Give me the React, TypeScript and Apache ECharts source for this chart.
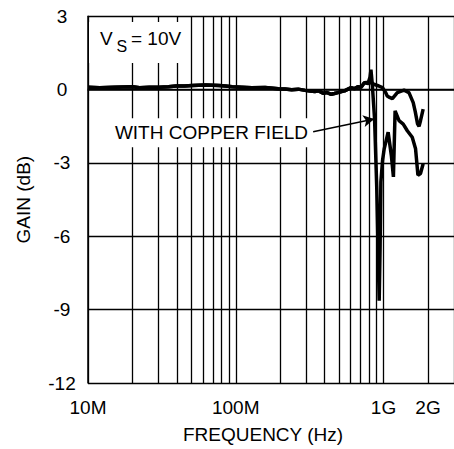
import React, { useEffect, useRef } from "react";
import * as echarts from "echarts";

// Frequencies in MHz, gains in dB
const flatFreq = [10, 12, 15, 20.1, 22.3, 26, 30.4, 35, 39.4, 45, 50.9, 56, 62.7, 70, 76.9, 85, 94.5, 110, 128.5, 158, 194, 215, 239, 265, 294, 318, 343, 365, 390, 415, 443, 465, 491, 520, 545, 575, 604, 635, 670, 705, 742];
const flatGain = [0.1, 0.08, 0.1, 0.12, 0.08, 0.1, 0.1, 0.12, 0.15, 0.15, 0.17, 0.18, 0.19, 0.18, 0.17, 0.15, 0.12, 0.1, 0.08, 0.09, 0.04, 0.03, 0.0, 0.02, -0.03, -0.06, -0.08, -0.05, -0.15, -0.12, -0.19, -0.16, -0.12, -0.08, -0.05, 0.02, 0.08, 0.04, 0.12, 0.1, 0.28];

const normalFreq = [790, 822, 860, 930, 985, 1030, 1060, 1100, 1148, 1240, 1377, 1487, 1589, 1640, 1700, 1740, 1780, 1855];
const normalGain = [0.25, 0.3, 0.22, 0.15, 0.08, -0.1, -0.26, -0.32, -0.37, -0.12, -0.02, -0.12, -0.53, -0.9, -1.4, -1.5, -1.27, -0.8];

const copperFreq = [790, 810, 822, 840, 870, 900, 935, 948, 960, 985, 1011, 1075, 1130, 1167, 1198, 1274, 1360, 1449, 1565, 1648, 1710, 1780, 1855];
const copperGain = [0.3, 0.5, 0.82, 0.2, -1.2, -4.0, -8.63, -6.5, -3.77, -2.9, -2.42, -1.74, -2.69, -3.57, -0.87, -1.27, -1.41, -1.68, -1.95, -2.42, -3.5, -3.43, -3.03];

const gridFreqs = [10, 20, 30, 40, 50, 60, 70, 80, 90, 100, 200, 300, 400, 500, 600, 700, 800, 900, 1000, 2000, 3000];
const xTickValues = [10, 100, 1000, 2000];
const xTickLabels = ["10M", "100M", "1G", "2G"];

const arrowStart = [334, -1.72];
const arrowEnd = [866, -1.2];

const MHZ = 1e6;
const FONT = "Liberation Sans, Arial, Helvetica, sans-serif";
const FS = 19;

function toPairs(f: number[], g: number[]) {
  return f.map((v, i) => [v * MHZ, g[i]]);
}

export default function App() {
  const ref = useRef<HTMLDivElement>(null);
  useEffect(() => {
    if (!ref.current) return;
    const chart = echarts.init(ref.current, undefined, { renderer: "svg" });
    const normal = toPairs(flatFreq.concat(normalFreq), flatGain.concat(normalGain));
    const copper = toPairs(flatFreq.concat(copperFreq), flatGain.concat(copperGain));
    chart.setOption({
      animation: false,
      backgroundColor: "#fff",
      grid: { left: 88, top: 16.3, right: -3, bottom: 62.7, containLabel: false },
      xAxis: {
        type: "log",
        logBase: 10,
        min: 1e7,
        max: 3e9,
        axisLine: { show: true, lineStyle: { color: "#000", width: 1.5 } },
        axisTick: { show: false },
        splitLine: { show: false },
        axisLabel: {
          customValues: xTickValues.map((v) => v * MHZ),
          color: "#000",
          fontFamily: FONT,
          fontSize: FS,
          margin: 15,
          formatter: (v: number) => {
            let best = 0;
            let bd = Infinity;
            xTickValues.forEach((t, i) => {
              const d = Math.abs(Math.log10(t * MHZ) - Math.log10(v));
              if (d < bd) { bd = d; best = i; }
            });
            return bd < 0.01 ? xTickLabels[best] : "";
          },
        },
        name: "FREQUENCY (Hz)",
        nameLocation: "middle",
        nameGap: 42,
        nameTextStyle: { color: "#000", fontFamily: FONT, fontSize: FS, padding: [0, 16, 0, 0] },
      },
      yAxis: {
        type: "value",
        min: -12,
        max: 3,
        interval: 3,
        axisLine: { show: true, lineStyle: { color: "#000", width: 1.5 } },
        axisTick: { show: false },
        splitLine: { show: true, lineStyle: { color: "#000", width: 1.3 } },
        axisLabel: { color: "#000", fontFamily: FONT, fontSize: FS, align: "center", margin: 26 },
        name: "GAIN (dB)",
        nameLocation: "middle",
        nameRotate: 90,
        nameGap: 55,
        nameTextStyle: { color: "#000", fontFamily: FONT, fontSize: FS },
      },
      series: [
        {
          type: "line",
          data: [],
          z: 1,
          silent: true,
          markLine: {
            silent: true,
            symbol: ["none", "none"],
            label: { show: false },
            lineStyle: { color: "#000", width: 1.3, type: "solid" },
            data: gridFreqs.map((f) => ({ xAxis: f * MHZ })),
          },
        },
        {
          type: "line",
          data: normal,
          z: 3,
          symbol: "none",
          lineStyle: { color: "#000", width: 3.5 },
        },
        {
          type: "line",
          data: copper,
          z: 3,
          symbol: "none",
          lineStyle: { color: "#000", width: 3.5 },
          markLine: {
            silent: true,
            symbol: ["none", "arrow"],
            symbolSize: [9, 11],
            label: { show: false },
            lineStyle: { color: "#000", width: 1.5, type: "solid" },
            data: [[
              { coord: [arrowStart[0] * MHZ, arrowStart[1]] },
              { coord: [arrowEnd[0] * MHZ, arrowEnd[1]] },
            ]],
          },
        },
      ],
      graphic: [
        { type: "rect", z: 50, shape: { x: 89, y: 22, width: 99, height: 41 }, style: { fill: "#fff" } },
        { type: "text", z: 51, x: 100, y: 38, style: { text: "V", fontFamily: FONT, fontSize: FS, fill: "#000", verticalAlign: "middle", align: "left" } },
        { type: "text", z: 51, x: 116.5, y: 46.7, style: { text: "S", fontFamily: FONT, fontSize: 16, fill: "#000", verticalAlign: "middle", align: "left" } },
        { type: "text", z: 51, x: 131, y: 38, style: { text: "= 10V", fontFamily: FONT, fontSize: FS, fill: "#000", verticalAlign: "middle", align: "left" } },
        { type: "text", z: 51, x: 211.5, y: 132.7, style: { text: "WITH COPPER FIELD", fontFamily: FONT, fontSize: FS, fill: "#000", verticalAlign: "middle", align: "center", backgroundColor: "#fff", padding: [5, 4] } },
      ],
    });
    return () => chart.dispose();
  }, []);
  return <div ref={ref} style={{ position: "fixed", left: 0, top: 0, width: 454, height: 449 }} />;
}
